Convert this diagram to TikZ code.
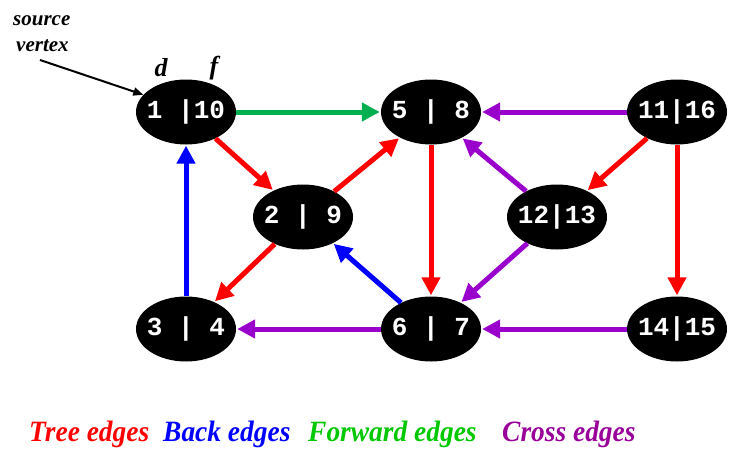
\documentclass[tikz,border=0pt]{standalone}
\usepackage{fontspec}
\setmainfont{Liberation Serif}
\newfontfamily\monob[]{Liberation Mono}
\usetikzlibrary{shapes.geometric,arrows.meta}
\definecolor{tred}{RGB}{255,0,0}
\definecolor{bblue}{RGB}{0,0,255}
\definecolor{fgreen}{RGB}{0,176,80}
\definecolor{cpurple}{RGB}{153,0,204}
\definecolor{lgreen}{RGB}{0,200,0}
\definecolor{lpurple}{RGB}{153,0,153}
\newcommand{\narrow}[1]{\scalebox{0.93}[1]{#1}}
\tikzset{
  vtx/.style={ellipse, fill=black, minimum width=100pt, minimum height=65pt, inner sep=0pt,
    label={[text=white, font=\monob\bfseries\fontsize{26}{26}\selectfont, inner sep=0pt]center:#1}},
  edge/.style={line width=5pt, -{Triangle[length=18pt,width=18pt]}, shorten >=1pt},
  lbl/.style={font=\bfseries\itshape\fontsize{29.5}{29.5}\selectfont, anchor=base west, inner sep=0pt},
  ital/.style={font=\bfseries\itshape\fontsize{21}{21}\selectfont, anchor=base west, inner sep=0pt},
}
\begin{document}
\begin{tikzpicture}[x=1pt,y=-1pt]
\useasboundingbox (0,0) rectangle (747,463);
\node[vtx={1 |10}] (n1) at (186,112) {};
\node[vtx={5 | 8}] (n5) at (431,112) {};
\node[vtx={11|16}] (n11) at (677,112) {};
\node[vtx={2 | 9}] (n2) at (303,217) {};
\node[vtx={12|13}] (n12) at (557,217) {};
\node[vtx={3 | 4}] (n3) at (186,329) {};
\node[vtx={6 | 7}] (n6) at (431,329) {};
\node[vtx={14|15}] (n14) at (677,329) {};

\draw[edge, fgreen] (n1) -- (n5);
\draw[edge, tred] (n1) -- (n2);
\draw[edge, tred] (n2) -- (n5);
\draw[edge, tred] (n2) -- (n3);
\draw[edge, bblue] (n3) -- (n1);
\draw[edge, bblue] (n6) -- (n2);
\draw[edge, tred] (n5) -- (n6);
\draw[edge, cpurple] (n6) -- (n3);
\draw[edge, cpurple] (n11) -- (n5);
\draw[edge, tred] (n11) -- (n12);
\draw[edge, cpurple] (n12) -- (n5);
\draw[edge, cpurple] (n12) -- (n6);
\draw[edge, tred] (n11.south) -- (n14.north);
\draw[edge, cpurple] (n14) -- (n6);

\node[ital] (src1) at (13,25) {source};
\node[ital] (src2) at (16,51) {vertex};
\coordinate (sa) at (40,60);
\draw[line width=2pt, -{Triangle[length=10pt,width=8pt]}] (sa) -- (n1.158);
\node[font=\bfseries\itshape\fontsize{26}{26}\selectfont] (d) at (161,68) {d};
\node[font=\bfseries\itshape\fontsize{26}{26}\selectfont] (f) at (214,68) {f};

\node[lbl, text=tred] (l1) at (29,441) {\narrow{Tree edges}};
\node[lbl, text=bblue] (l2) at (163,441) {\narrow{Back edges}};
\node[lbl, text=lgreen] (l3) at (308,441) {\narrow{Forward edges}};
\node[lbl, text=lpurple] (l4) at (502,441) {\narrow{Cross edges}};
\end{tikzpicture}
\end{document}
